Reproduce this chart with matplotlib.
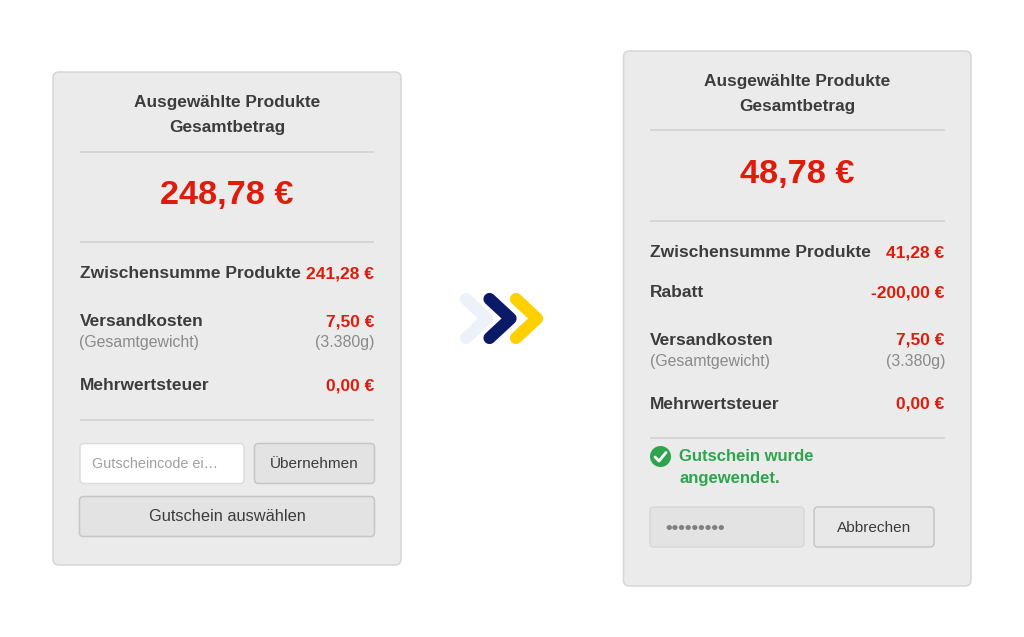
import matplotlib
matplotlib.use('Agg')
import matplotlib.pyplot as plt
from matplotlib.patches import FancyBboxPatch, Circle

W, H = 1024, 637
DARK = '#3c3c3c'
RED = '#de1c0c'
GREY = '#8a8a8a'
GREEN = '#2ea44f'
PANEL = '#ebebeb'
EDGE = '#d6d6d6'
LINE = '#d2d2d2'
BTN = '#e3e3e3'
BTN_EDGE = '#c6c6c6'

title_lines = ["Ausgewählte Produkte", "Gesamtbetrag"]
total_left = "248,78 €"
total_right = "48,78 €"
rows_left = [("Zwischensumme Produkte", "241,28 €", 273),
             ("Versandkosten", "7,50 €", 321),
             ("Mehrwertsteuer", "0,00 €", 385)]
rows_right = [("Zwischensumme Produkte", "41,28 €", 252),
              ("Rabatt", "-200,00 €", 292),
              ("Versandkosten", "7,50 €", 339.5),
              ("Mehrwertsteuer", "0,00 €", 403.5)]
sub_label = "(Gesamtgewicht)"
sub_value = "(3.380g)"
chevron_colors = ['#edf2fa', '#0b1a66', '#ffd000']
chevron_x = [466, 489.5, 516]

plt.rcParams['font.family'] = ['Liberation Sans', 'DejaVu Sans']
fig = plt.figure(figsize=(W / 100, H / 100), dpi=100)
ax = fig.add_axes([0, 0, 1, 1])
ax.set_xlim(0, W)
ax.set_ylim(H, 0)
ax.axis('off')


def box(x0, y0, x1, y1, face, edge, lw=1.1, r=4):
    ax.add_patch(FancyBboxPatch((x0, y0), x1 - x0, y1 - y0,
                                boxstyle=f"round,pad=0,rounding_size={r}",
                                fc=face, ec=edge, lw=lw, mutation_aspect=1))


def hline(x0, x1, y):
    ax.plot([x0, x1], [y, y], color=LINE, lw=1.2, solid_capstyle='butt')


def txt(x, y, s, size=12.5, color=DARK, weight='bold', ha='left'):
    # baseline anchor keeps labels and values on one line
    ax.text(x, y + size * 0.42, s, fontsize=size, color=color, fontweight=weight,
            ha=ha, va='baseline')


def panel(x0, y0, x1, y1, left, total, rows, hr1, hr2, hr3):
    box(x0, y0, x1, y1, PANEL, EDGE, r=6)
    cx = (x0 + x1) / 2
    right = left + 294.5
    txt(cx, y0 + 30, title_lines[0], size=12.4, ha='center')
    txt(cx, y0 + 55, title_lines[1], size=12.4, ha='center')
    hline(left, right, hr1)
    txt(cx, hr1 + 42.5, total, size=24.7, color=RED, ha='center')
    hline(left, right, hr2)
    hline(left, right, hr3)
    for label, value, y in rows:
        txt(left, y, label)
        txt(right, y, value, color=RED, ha='right')
        if label == "Versandkosten":
            txt(left, y + 21.5, sub_label, size=11.4, color=GREY, weight='normal')
            txt(right + 1, y + 21.5, sub_value, size=11.4, color=GREY, weight='normal', ha='right')


panel(53, 72, 401, 565, 79.5, total_left, rows_left, 151.5, 241.5, 419.5)
panel(623.5, 51, 971, 586, 650, total_right, rows_right, 130, 220.5, 438)

# left form
box(80, 443.5, 244, 483.5, '#ffffff', '#dcdcdc')
txt(92, 463.5, "Gutscheincode ei…", size=10.4, color='#a0a0a0', weight='normal')
box(254.5, 443.5, 374.5, 483.5, BTN, BTN_EDGE)
txt(314.5, 463.5, "Übernehmen", size=11.05, weight='normal', ha='center')
box(79.5, 496.5, 374.5, 536.5, BTN, BTN_EDGE)
txt(227, 516, "Gutschein auswählen", size=11.8, weight='normal', ha='center')

# right form
ax.add_patch(Circle((660.5, 456.5), 10.5, fc=GREEN, ec='none'))
ax.plot([655, 659, 666], [457, 461, 452.5], color='white', lw=2.0,
        solid_capstyle='round', solid_joinstyle='round')
txt(679, 456, "Gutschein wurde", size=12, color=GREEN)
txt(679, 477.5, "angewendet.", size=12, color=GREEN)
box(650, 507, 804, 547, BTN, '#d8d8d8')
txt(665, 527.5, "•" * 9, size=13.5, color='#808080', weight='bold')
box(814, 507, 934, 547, '#e8e8e8', BTN_EDGE)
txt(874.5, 527, "Abbrechen", size=11.05, weight='normal', ha='center')

# chevrons between panels
for x, c in zip(chevron_x, chevron_colors):
    ax.plot([x, x + 21, x], [299, 318.5, 338], color=c, lw=8.8,
            solid_capstyle='round', solid_joinstyle='round')

fig.savefig('out.png', dpi=100, facecolor='white')
